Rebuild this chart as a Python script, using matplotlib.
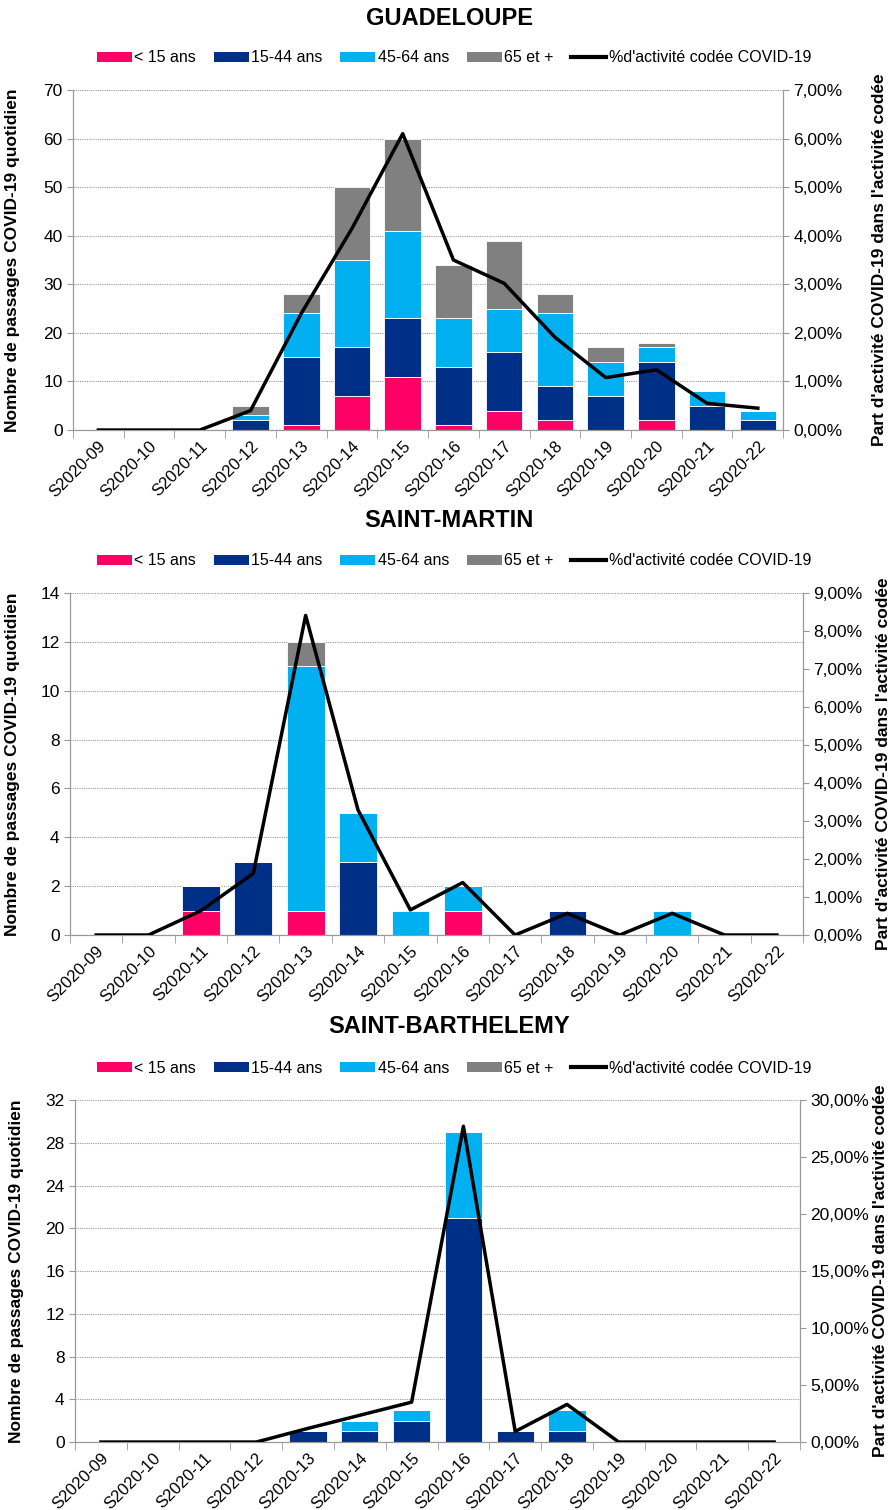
import matplotlib
matplotlib.use('Agg')
import matplotlib.pyplot as plt
from matplotlib.patches import Patch
from matplotlib.lines import Line2D
from matplotlib.ticker import FuncFormatter, MultipleLocator
import numpy as np

# weeks
weeks = ['S2020-%02d' % w for w in range(9, 23)]

# GUADELOUPE
gp_lt15 = [0, 0, 0, 0, 1, 7, 11, 1, 4, 2, 0, 2, 0, 0]
gp_15_44 = [0, 0, 0, 2, 14, 10, 12, 12, 12, 7, 7, 12, 5, 2]
gp_45_64 = [0, 0, 0, 1, 9, 18, 18, 10, 9, 15, 7, 3, 3, 2]
gp_65 = [0, 0, 0, 2, 4, 15, 19, 11, 14, 4, 3, 1, 0, 0]
gp_pct = [0, 0, 0, 0.40, 2.40, 4.15, 6.10, 3.50, 3.02, 1.91, 1.08, 1.24, 0.55, 0.45]

# SAINT-MARTIN
sm_lt15 = [0, 0, 1, 0, 1, 0, 0, 1, 0, 0, 0, 0, 0, 0]
sm_15_44 = [0, 0, 1, 3, 0, 3, 0, 0, 0, 1, 0, 0, 0, 0]
sm_45_64 = [0, 0, 0, 0, 10, 2, 1, 1, 0, 0, 0, 1, 0, 0]
sm_65 = [0, 0, 0, 0, 1, 0, 0, 0, 0, 0, 0, 0, 0, 0]
sm_pct = [0, 0, 0.64, 1.62, 8.41, 3.29, 0.66, 1.38, 0, 0.57, 0, 0.57, 0, 0]

# SAINT-BARTHELEMY
sb_lt15 = [0] * 14
sb_15_44 = [0, 0, 0, 0, 1, 1, 2, 21, 1, 1, 0, 0, 0, 0]
sb_45_64 = [0, 0, 0, 0, 0, 1, 1, 8, 0, 2, 0, 0, 0, 0]
sb_65 = [0] * 14
sb_pct = [0, 0, 0, 0, 1.2, 2.35, 3.5, 27.7, 0.93, 3.3, 0, 0, 0, 0]

colors = ['#FF0066', '#002F87', '#00B0F0', '#808080']
labels = ['< 15 ans', '15-44 ans', '45-64 ans', '65 et +']

plt.rcParams['font.family'] = ['Liberation Sans Narrow', 'Liberation Sans', 'DejaVu Sans']

fig = plt.figure(figsize=(8.9, 15.1), dpi=100)


def pct_fmt(v, pos):
    return ('%.2f%%' % v).replace('.', ',')


def panel(rect, title, title_y, leg_y, series, pct, ymax, ystep, pmax, pstep, llab_x, rlab_x):
    ax = fig.add_axes(rect)
    x = np.arange(len(weeks))
    bottom = np.zeros(len(weeks))
    for vals, c in zip(series, colors):
        ax.bar(x, vals, 0.72, bottom=bottom, color=c, edgecolor='white', linewidth=0.6, zorder=2)
        bottom += np.array(vals)
    ax.set_xlim(-0.5, len(weeks) - 0.5)
    ax.set_ylim(0, ymax)
    ax.yaxis.set_major_locator(MultipleLocator(ystep))
    ax.grid(axis='y', color='#999999', linestyle=(0, (1, 1)), linewidth=0.8, zorder=0)
    ax.set_axisbelow(True)
    ax.spines['top'].set_visible(False)
    for s in ['left', 'right', 'bottom']:
        ax.spines[s].set_color('#999999')
    ax.set_xticks(x)
    ax.set_xticklabels(weeks, rotation=45, ha='right', rotation_mode='anchor', fontsize=12)
    ax.tick_params(axis='x', length=0, pad=6)
    ax.set_xticks(np.arange(-0.5, len(weeks), 1), minor=True)
    ax.tick_params(axis='x', which='minor', length=6, color='#999999')
    ax.tick_params(axis='y', labelsize=12.5, color='#999999', length=4)
    ax.set_ylabel('Nombre de passages COVID-19 quotidien', fontsize=12.5, fontweight='bold',
                  family=['Liberation Sans', 'DejaVu Sans'])
    ax.yaxis.set_label_coords(llab_x, 0.5)

    ax2 = ax.twinx()
    ax2.plot(x, pct, color='black', linewidth=2.5, zorder=5)
    ax2.set_ylim(0, pmax)
    ax2.yaxis.set_major_locator(MultipleLocator(pstep))
    ax2.yaxis.set_major_formatter(FuncFormatter(pct_fmt))
    ax2.tick_params(axis='y', labelsize=12.5, color='#999999', length=4)
    ax2.spines['top'].set_visible(False)
    for s in ['left', 'right', 'bottom']:
        ax2.spines[s].set_color('#999999')
    ax2.set_ylabel("Part d'activité COVID-19 dans l'activité codée", fontsize=12.5, fontweight='bold',
                   family=['Liberation Sans', 'DejaVu Sans'])
    ax2.yaxis.set_label_coords(rlab_x, 0.5)

    fig.text(0.505, title_y, title, ha='center', va='center', fontsize=17, fontweight='bold')

    handles = [Patch(facecolor=c, edgecolor='none') for c in colors]
    handles.append(Line2D([0], [0], color='black', linewidth=3))
    fig.legend(handles, labels + ["%d'activité codée COVID-19"], loc='center',
               bbox_to_anchor=(0.51, leg_y), ncol=5, frameon=False, fontsize=11.5,
               handlelength=2.2, handleheight=0.6, handletextpad=0.15, columnspacing=1.1)


panel([0.082, 0.7152, 0.798, 0.2252], 'GUADELOUPE', 0.988, 0.9616,
      [gp_lt15, gp_15_44, gp_45_64, gp_65], gp_pct, 70, 10, 7, 1, -0.075, 1.125)
panel([0.0787, 0.3808, 0.8236, 0.2265], 'SAINT-MARTIN', 0.6556, 0.6285,
      [sm_lt15, sm_15_44, sm_45_64, sm_65], sm_pct, 14, 2, 9, 1, -0.068, 1.1)
panel([0.0843, 0.045, 0.8146, 0.2265], 'SAINT-BARTHELEMY', 0.3199, 0.2927,
      [sb_lt15, sb_15_44, sb_45_64, sb_65], sb_pct, 32, 4, 30, 5, -0.07, 1.1)

fig.savefig('out.png', dpi=100)
